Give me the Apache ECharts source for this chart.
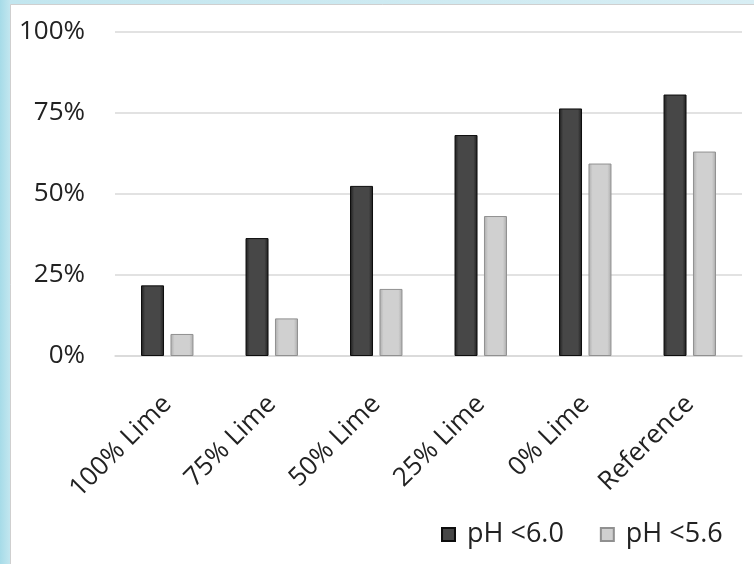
<!DOCTYPE html>
<html><head><meta charset="utf-8">
<script src="https://cdn.jsdelivr.net/npm/echarts@6/dist/echarts.min.js"></script>
<style>html,body{margin:0;padding:0;}#c{width:754px;height:564px;}</style>
</head><body><div id="c"></div>
<script>
const categories = ['100% Lime', '75% Lime', '50% Lime', '25% Lime', '0% Lime', 'Reference'];
const seriesNames = ['pH <6.0', 'pH <5.6'];
const phBelow60 = [21.8, 36.4, 52.5, 68.2, 76.4, 80.7];
const phBelow56 = [6.8, 11.6, 20.7, 43.2, 59.4, 63.1];
const yTicks = [0, 25, 50, 75, 100];

const FONT = '"Open Sans", sans-serif';
function hgrad(edge, mid) {
  return new echarts.graphic.LinearGradient(0, 0, 1, 0, [
    {offset: 0, color: edge}, {offset: 0.18, color: mid},
    {offset: 0.82, color: mid}, {offset: 1, color: edge}]);
}
const chart = echarts.init(document.getElementById('c'));
chart.setOption({
  animation: false,
  backgroundColor: '#ffffff',
  graphic: [
    {type: 'rect', z: -10, shape: {x: 0, y: 0, width: 754, height: 564},
     style: {fill: new echarts.graphic.LinearGradient(0, 0, 1, 0, [
       {offset: 0, color: '#a6dbe8'}, {offset: 0.013, color: '#c2e6ef'}, {offset: 1, color: '#d8eef4'}])}},
    {type: 'rect', z: -9, shape: {x: 10.5, y: 4.5, width: 760, height: 580},
     style: {fill: '#ffffff', stroke: '#cfcfcf', lineWidth: 1}}
  ],
  grid: {left: 115, right: 12, top: 32, bottom: 208, containLabel: false},
  legend: {
    data: seriesNames, left: 436, top: 516, itemWidth: 13, itemHeight: 13, itemGap: 36,
    icon: 'rect',
    textStyle: {fontFamily: FONT, fontSize: 27, color: '#222', padding: [0, 0, 0, 7]}
  },
  xAxis: {
    type: 'category', data: categories,
    axisLine: {show: true, lineStyle: {color: '#d9d9d9', width: 1.5}},
    axisTick: {show: false},
    axisLabel: {rotate: 45, margin: 44, fontFamily: FONT, fontSize: 26, color: '#222', interval: 0}
  },
  yAxis: {
    type: 'value', min: 0, max: 100, interval: 25,
    axisLine: {show: false}, axisTick: {show: false},
    splitLine: {lineStyle: {color: '#d9d9d9', width: 1.5}},
    axisLabel: {margin: 30, fontFamily: FONT, fontSize: 26, color: '#222',
      formatter: v => yTicks.includes(v) ? v + '%' : ''}
  },
  series: [
    {name: seriesNames[0], type: 'bar', data: phBelow60, barWidth: 23, barGap: '28%',
     itemStyle: {color: hgrad('#1c1c1c', '#474747'), borderColor: '#0d0d0d', borderWidth: 1}},
    {name: seriesNames[1], type: 'bar', data: phBelow56, barWidth: 23,
     itemStyle: {color: hgrad('#ababab', '#d0d0d0'), borderColor: '#909090', borderWidth: 1}}
  ]
});
</script></body></html>
